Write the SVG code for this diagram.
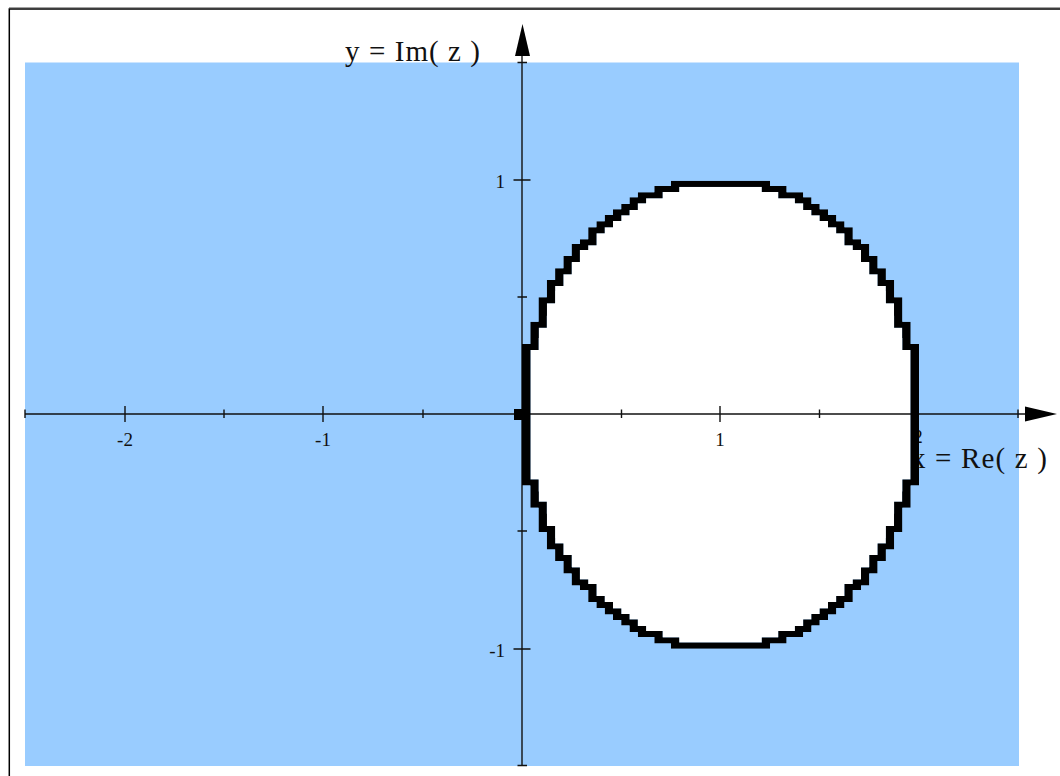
<svg xmlns="http://www.w3.org/2000/svg" xmlns:xlink="http://www.w3.org/1999/xlink" width="1060" height="776" viewBox="0 0 1060 776">
  <style>
    .axis { stroke: #111; stroke-width: 1.4; fill: none; }
    .tick { stroke: #111; stroke-width: 1.4; fill: none; }
    .arrow { fill: #000; stroke: none; }
    .tl { font-family: "Liberation Serif", "Times New Roman", serif; font-size: 19px; fill: #111; }
    .al { font-family: "Liberation Serif", "Times New Roman", serif; font-size: 29px; fill: #111; }
  </style>
  <defs>
    <path id="blob" d="M522,344 H530.3 V321.7 H538.5 V297.3 H546.8 V280 H555.1 V268.3 H563.4 V256 H571.6 V244 H579.9 V239.3 H588.2 V227.3 H596.4 V221.3 H604.7 V215 H613 V209.3 H621.2 V204 H629.5 V197.3 H637.8 V192.3 H654.3 V186 H670.9 V180.7 H770.1 V186 H786.6 V192.3 H803.2 V197.3 H811.5 V204 H819.7 V209.3 H828 V215 H836.3 V221.3 H844.5 V227.3 H852.8 V239.3 H861.1 V244 H869.3 V256 H877.6 V268.3 H885.9 V280 H894.2 V297.3 H902.4 V321.7 H910.7 V344 H919 V485.4 H910.7 V507.7 H902.4 V532.1 H894.2 V549.4 H885.9 V561.1 H877.6 V573.4 H869.3 V585.4 H861.1 V590.1 H852.8 V602.1 H844.5 V608.1 H836.3 V614.4 H828 V620.1 H819.7 V625.4 H811.5 V632.1 H803.2 V637.1 H786.6 V643.4 H770.1 V648.7 H670.9 V643.4 H654.3 V637.1 H637.8 V632.1 H629.5 V625.4 H621.2 V620.1 H613 V614.4 H604.7 V608.1 H596.4 V602.1 H588.2 V590.1 H579.9 V585.4 H571.6 V573.4 H563.4 V561.1 H555.1 V549.4 H546.8 V532.1 H538.5 V507.7 H530.3 V485.4 H522 Z"/>
    <clipPath id="ca"><use xlink:href="#blob" href="#blob" transform="translate(8.27,6)"/></clipPath>
    <clipPath id="cb"><use xlink:href="#blob" href="#blob" transform="translate(-8.27,6)"/></clipPath>
    <clipPath id="cc"><use xlink:href="#blob" href="#blob" transform="translate(8.27,-6)"/></clipPath>
    <g id="inner">
      <g clip-path="url(#ca)"><g clip-path="url(#cb)"><g clip-path="url(#cc)">
        <use xlink:href="#blob" href="#blob" transform="translate(-8.27,-6)"/>
      </g></g></g>
    </g>
    <mask id="bandmask" maskUnits="userSpaceOnUse" x="0" y="0" width="1060" height="776">
      <use xlink:href="#blob" href="#blob" fill="#fff"/>
      <use xlink:href="#inner" href="#inner" fill="#000"/>
    </mask>
  </defs>

  <!-- frame -->
  <g id="frame">
    <line x1="9" y1="7.6" x2="1060" y2="7.6" stroke="#999" stroke-width="1"/>
    <path d="M9.3,776 V9 H1060" fill="none" stroke="#000" stroke-width="1.5"/>
  </g>

  <!-- background region -->
  <g id="region">
    <rect x="25" y="62.5" width="994" height="703.5" fill="#99ccff"/>
    <use xlink:href="#inner" href="#inner" fill="#fff"/>
  </g>

  <!-- axes -->
  <g id="axes">
    <line class="axis" x1="25" y1="414" x2="1026" y2="414"/>
    <line class="axis" x1="522" y1="766" x2="522" y2="55"/>
    <polygon class="arrow" points="1057,414 1025,406.5 1025,421.5"/>
    <polygon class="arrow" points="522.5,24 515,56 530,56"/>
    <path class="tick" d="M125,406V422 M323,406V422 M720,406V422 M918,406V422 M25,409.5V418 M224,409.5V418 M423,409.5V418 M621.5,409.5V418 M819.5,409.5V418 M1018,409.5V418 M513.5,180H530.5 M513.5,649H530.5 M517.5,62.5H527 M517.5,297H527 M517.5,531H527 M517.5,765.5H527"/>
    <rect x="514" y="409" width="16" height="11" fill="#000"/>
  </g>

  <!-- labels -->
  <g id="labels">
    <text class="tl" x="125" y="446" text-anchor="middle">-2</text>
    <text class="tl" x="323" y="446" text-anchor="middle">-1</text>
    <text class="tl" x="720" y="446" text-anchor="middle">1</text>
    <text class="tl" x="918" y="443" text-anchor="middle">2</text>
    <text class="tl" x="505" y="188" text-anchor="end">1</text>
    <text class="tl" x="505" y="657" text-anchor="end">-1</text>
    <text class="al" x="345" y="61" textLength="135" lengthAdjust="spacing">y = Im( z )</text>
    <text class="al" x="911" y="468" textLength="136" lengthAdjust="spacing">x = Re( z )</text>
  </g>

  <!-- boundary band -->
  <g id="boundary">
    <use xlink:href="#blob" href="#blob" fill="#000" mask="url(#bandmask)"/>
  </g>
</svg>
